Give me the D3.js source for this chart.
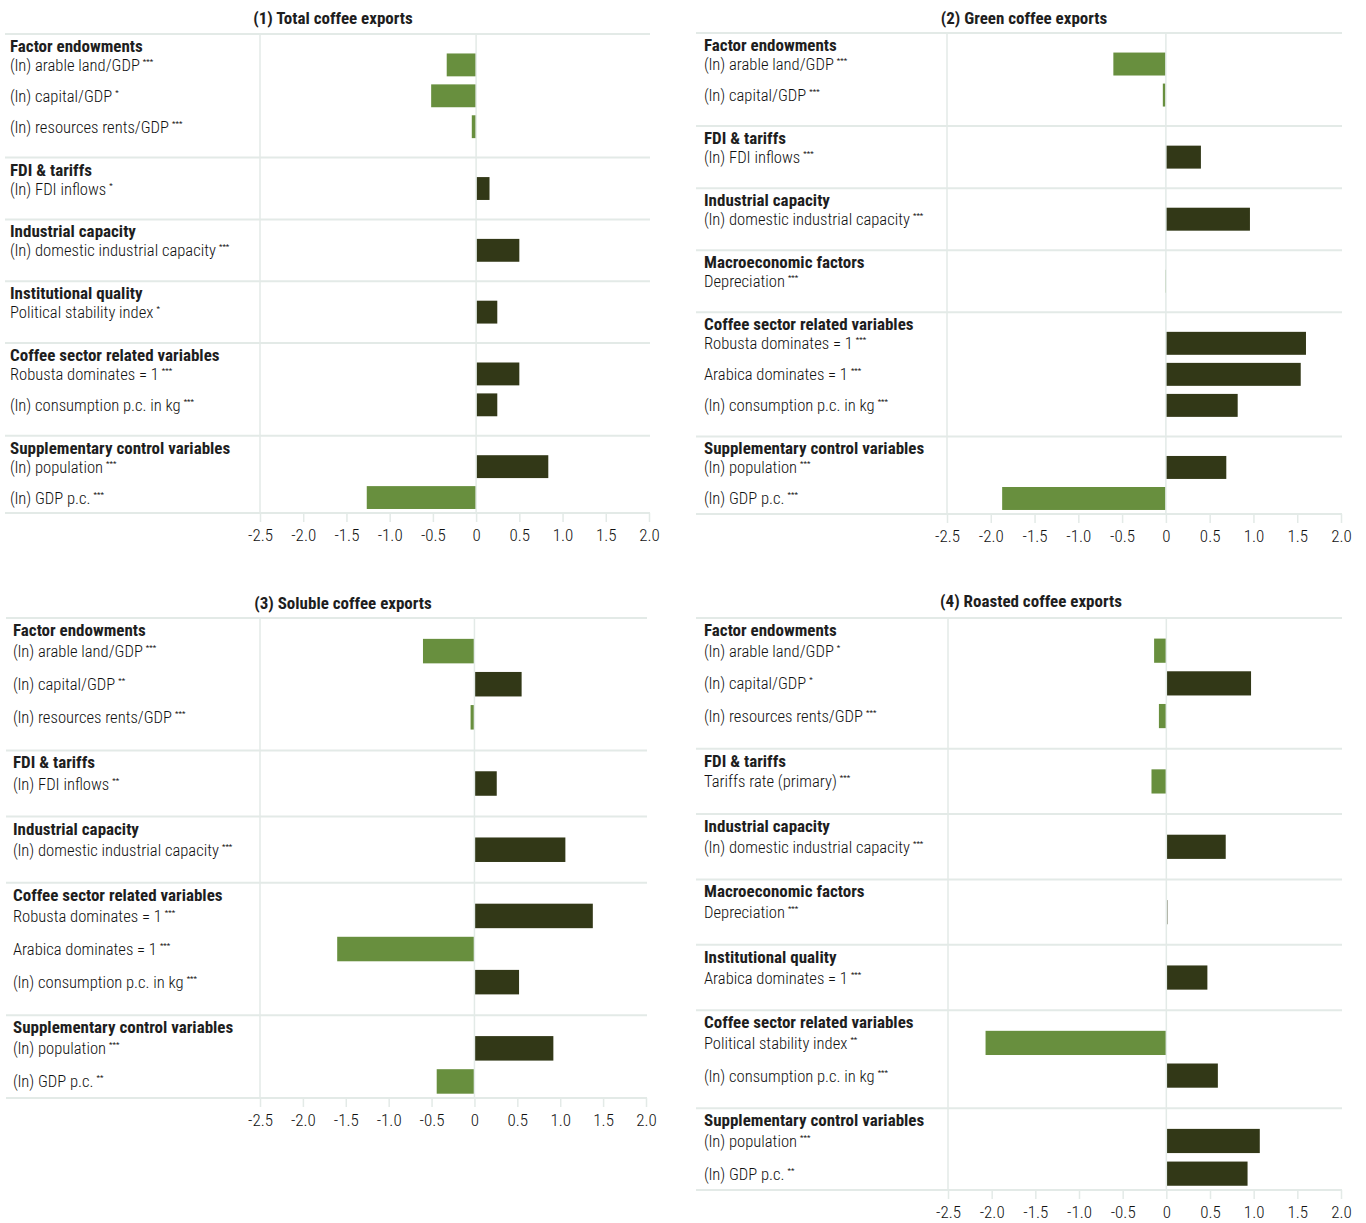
<!DOCTYPE html>
<html>
<head>
<meta charset="utf-8">
<script src="https://cdn.jsdelivr.net/npm/d3@7"></script>
<style>
  html, body { margin: 0; padding: 0; background: #fff; }
  svg { display: block; }
  text { font-family: "Roboto Condensed", "Liberation Sans Narrow", "DejaVu Sans Condensed", sans-serif; }
</style>
</head>
<body>
<svg id="chart" width="1366" height="1223"></svg>
<script>
// ---------------- DATA ----------------
const panelTitles = [
  "(1) Total coffee exports",
  "(2) Green coffee exports",
  "(3) Soluble coffee exports",
  "(4) Roasted coffee exports"
];

const tickValues = [-2.5, -2.0, -1.5, -1.0, -0.5, 0, 0.5, 1.0, 1.5, 2.0];
const tickLabels = ["-2.5", "-2.0", "-1.5", "-1.0", "-0.5", "0", "0.5", "1.0", "1.5", "2.0"];

// Panel 1: Total coffee exports
const p1Groups = ["Factor endowments", "FDI & tariffs", "Industrial capacity", "Institutional quality", "Coffee sector related variables", "Supplementary control variables"];
const p1ItemGroup = [0, 0, 0, 1, 2, 3, 4, 4, 5, 5];
const p1Labels = ["(ln) arable land/GDP", "(ln) capital/GDP", "(ln) resources rents/GDP", "(ln) FDI inflows", "(ln) domestic industrial capacity", "Political stability index", "Robusta dominates = 1", "(ln) consumption p.c. in kg", "(ln) population", "(ln) GDP p.c."];
const p1Stars = ["***", "*", "***", "*", "***", "*", "***", "***", "***", "***"];
const p1Values = [-0.34, -0.52, -0.05, 0.155, 0.50, 0.245, 0.50, 0.245, 0.835, -1.265];

// Panel 2: Green coffee exports
const p2Groups = ["Factor endowments", "FDI & tariffs", "Industrial capacity", "Macroeconomic factors", "Coffee sector related variables", "Supplementary control variables"];
const p2ItemGroup = [0, 0, 1, 2, 3, 4, 4, 4, 5, 5];
const p2Labels = ["(ln) arable land/GDP", "(ln) capital/GDP", "(ln) FDI inflows", "(ln) domestic industrial capacity", "Depreciation", "Robusta dominates = 1", "Arabica dominates = 1", "(ln) consumption p.c. in kg", "(ln) population", "(ln) GDP p.c."];
const p2Stars = ["***", "***", "***", "***", "***", "***", "***", "***", "***", "***"];
const p2Values = [-0.60, -0.035, 0.40, 0.96, -0.01, 1.60, 1.54, 0.82, 0.69, -1.87];

// Panel 3: Soluble coffee exports
const p3Groups = ["Factor endowments", "FDI & tariffs", "Industrial capacity", "Coffee sector related variables", "Supplementary control variables"];
const p3ItemGroup = [0, 0, 0, 1, 2, 3, 3, 3, 4, 4];
const p3Labels = ["(ln) arable land/GDP", "(ln) capital/GDP", "(ln) resources rents/GDP", "(ln) FDI inflows", "(ln) domestic industrial capacity", "Robusta dominates = 1", "Arabica dominates = 1", "(ln) consumption p.c. in kg", "(ln) population", "(ln) GDP p.c."];
const p3Stars = ["***", "**", "***", "**", "***", "***", "***", "***", "***", "**"];
const p3Values = [-0.60, 0.55, -0.045, 0.26, 1.06, 1.38, -1.60, 0.52, 0.92, -0.44];

// Panel 4: Roasted coffee exports
const p4Groups = ["Factor endowments", "FDI & tariffs", "Industrial capacity", "Macroeconomic factors", "Institutional quality", "Coffee sector related variables", "Supplementary control variables"];
const p4ItemGroup = [0, 0, 0, 1, 2, 3, 4, 5, 5, 6, 6];
const p4Labels = ["(ln) arable land/GDP", "(ln) capital/GDP", "(ln) resources rents/GDP", "Tariffs rate (primary)", "(ln) domestic industrial capacity", "Depreciation", "Arabica dominates = 1", "Political stability index", "(ln) consumption p.c. in kg", "(ln) population", "(ln) GDP p.c."];
const p4Stars = ["*", "*", "***", "***", "***", "***", "***", "**", "***", "***", "**"];
const p4Values = [-0.14, 0.97, -0.085, -0.17, 0.68, 0.012, 0.47, -2.07, 0.59, 1.07, 0.93];

// ---------------- LAYOUT ----------------
const layouts = [
  { titleX: 333,  titleY: 24,  top: 34,  bottom: 513,  sepX: 5,   labelX: 10,  xa: 260, xb: 649 },
  { titleX: 1024, titleY: 24,  top: 33,  bottom: 514,  sepX: 696, labelX: 704, xa: 947, xb: 1341 },
  { titleX: 343,  titleY: 609, top: 618, bottom: 1098, sepX: 6,   labelX: 13,  xa: 260, xb: 646 },
  { titleX: 1031, titleY: 607, top: 618, bottom: 1190, sepX: 696, labelX: 704, xa: 948, xb: 1341 }
];

const panels = [
  { groups: p1Groups, itemGroup: p1ItemGroup, labels: p1Labels, stars: p1Stars, values: p1Values },
  { groups: p2Groups, itemGroup: p2ItemGroup, labels: p2Labels, stars: p2Stars, values: p2Values },
  { groups: p3Groups, itemGroup: p3ItemGroup, labels: p3Labels, stars: p3Stars, values: p3Values },
  { groups: p4Groups, itemGroup: p4ItemGroup, labels: p4Labels, stars: p4Stars, values: p4Values }
];

const POS = "#323817";
const NEG = "#688f3e";
const GRID = "#e3eae7";
const TEXT = "#1e1e1e";

const svg = d3.select("#chart");

panels.forEach((P, pi) => {
  const L = layouts[pi];
  const g = svg.append("g");

  // compute row indices
  let idx = 0;
  const groupStart = [];
  const rowIdx = [];
  P.groups.forEach((name, gi) => {
    groupStart.push(idx);
    P.itemGroup.forEach((gg, i) => {
      if (gg === gi) { idx += 1; rowIdx[i] = idx; }
    });
    idx += 1;
  });
  const totalRows = idx - 0.5;

  const x = d3.scaleLinear().domain([-2.5, 2.0]).range([L.xa, L.xb]);
  const y = d3.scaleLinear().domain([0, totalRows]).range([L.top, L.bottom]);
  const pitch = y(1) - y(0);
  const barH = pitch * 0.74;

  // title
  g.append("text")
    .attr("x", L.titleX).attr("y", L.titleY)
    .attr("text-anchor", "middle")
    .attr("font-size", 17).attr("font-weight", "bold")
    .attr("fill", TEXT)
    .text(panelTitles[pi]);

  // vertical grid line at -2.5
  g.append("line")
    .attr("x1", x(-2.5)).attr("x2", x(-2.5))
    .attr("y1", L.top).attr("y2", L.bottom)
    .attr("stroke", GRID).attr("stroke-width", 1.5);

  // group separator lines
  const seps = groupStart.concat([totalRows]);
  g.selectAll("line.sep").data(seps).enter().append("line")
    .attr("class", "sep")
    .attr("x1", L.sepX).attr("x2", x(2.0) + 1)
    .attr("y1", d => y(d)).attr("y2", d => y(d))
    .attr("stroke", GRID).attr("stroke-width", 2);

  // bars
  g.selectAll("rect.bar").data(P.values).enter().append("rect")
    .attr("class", "bar")
    .attr("x", d => Math.min(x(0), x(d)))
    .attr("width", d => Math.max(1, Math.abs(x(d) - x(0))))
    .attr("y", (d, i) => y(rowIdx[i]) - barH / 2)
    .attr("height", barH)
    .attr("fill", d => d < 0 ? NEG : POS);

  // zero line on top
  g.append("line")
    .attr("x1", x(0)).attr("x2", x(0))
    .attr("y1", L.top).attr("y2", L.bottom)
    .attr("stroke", GRID).attr("stroke-width", 1.5);

  // group headings
  g.selectAll("text.head").data(P.groups).enter().append("text")
    .attr("class", "head")
    .attr("x", L.labelX)
    .attr("y", (d, gi) => y(groupStart[gi]) + 18)
    .attr("font-size", 17).attr("font-weight", "bold")
    .attr("fill", TEXT)
    .text(d => d);

  // item labels
  const lab = g.selectAll("text.lab").data(P.labels).enter().append("text")
    .attr("class", "lab")
    .attr("x", L.labelX)
    .attr("y", (d, i) => y(rowIdx[i]) + 6)
    .attr("font-size", 16.6)
    .attr("font-weight", 300)
    .attr("fill", "#111");
  lab.append("tspan").text(d => d);
  lab.append("tspan")
    .attr("dx", 3).attr("dy", -7)
    .attr("font-size", 8)
    .attr("font-weight", 400)
    .text((d, i) => P.stars[i]);

  // x axis
  const axis = d3.axisBottom(x)
    .tickValues(tickValues)
    .tickSize(9)
    .tickPadding(7)
    .tickFormat((d, i) => tickLabels[i]);
  const ax = g.append("g")
    .attr("transform", `translate(0,${L.bottom})`)
    .call(axis);
  ax.select(".domain").remove();
  ax.selectAll(".tick line").attr("stroke", GRID).attr("stroke-width", 1.5);
  ax.selectAll(".tick text")
    .attr("font-size", 17)
    .attr("font-weight", 300)
    .attr("fill", "#111")
    .attr("font-family", "\"Roboto Condensed\", \"Liberation Sans Narrow\", \"DejaVu Sans Condensed\", sans-serif");
});
</script>
</body>
</html>
